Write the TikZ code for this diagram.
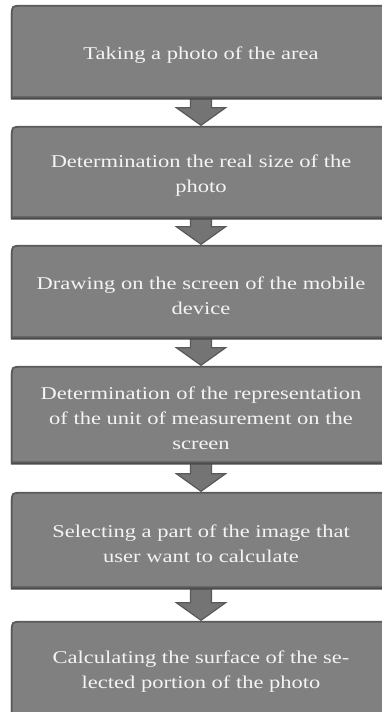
\documentclass[tikz,border=0pt]{standalone}
\usepackage{fontspec}
\setmainfont{Liberation Serif}
\newfontfamily\boxfont[FakeStretch=1.25]{Liberation Serif}
\usetikzlibrary{calc,backgrounds}
\definecolor{boxfill}{HTML}{808080}
\definecolor{boxline}{HTML}{5A5A5A}
\definecolor{shadowcol}{HTML}{4A4A4A}
\definecolor{arrowfill}{HTML}{747474}
\definecolor{textcol}{HTML}{F4F4F4}
\tikzset{
  stepnode/.style={minimum width=378pt, minimum height=#1, inner sep=0pt,
    align=center, text=textcol, font=\boxfont\fontsize{18}{25}\selectfont},
  boxshape/.style={fill=boxfill, draw=boxline, line width=1.8pt},
  shadowshape/.style={fill=shadowcol, draw=shadowcol, line width=1.8pt},
  blockarrow/.style={fill=arrowfill, draw=boxline, line width=1.2pt, line join=miter}
}
% boxes are drawn 4pt above their text node, so that the text sits a little low
\newcommand\boxpath[1]{(#1.south west) -- ([yshift=-10pt]#1.north west)
  .. controls (#1.north west) .. ([xshift=10pt]#1.north west) -- (#1.north east)
  -- ([yshift=10pt]#1.south east) .. controls (#1.south east) .. ([xshift=-10pt]#1.south east) -- cycle}
\newcommand\drawstepbox[1]{%
  \begin{scope}[transform canvas={yshift=2.4pt}]\draw[shadowshape] \boxpath{#1};\end{scope}
  \begin{scope}[transform canvas={yshift=4pt}]\draw[boxshape] \boxpath{#1};\end{scope}}
\newcommand\steparrow[2]{%
  \draw[blockarrow] let \p1=(#1.south), \p2=(#2.north) in
    (\x1-10.5pt,\y1+8pt) -- (\x1-10.5pt,\y2+23pt) -- (\x1-24.5pt,\y2+23pt) -- (\x1,\y2+5.5pt)
    -- (\x1+24.5pt,\y2+23pt) -- (\x1+10.5pt,\y2+23pt) -- (\x1+10.5pt,\y1+8pt);}
\begin{document}
\begin{tikzpicture}[x=1pt,y=-1pt]
\useasboundingbox (0,0) rectangle (382,712);
\node[stepnode=91pt] (b1) at (201,55.5) {Taking a photo of the area};
\node[stepnode=90pt] (b2) at (201,176) {Determination the real size of the\\photo};
\node[stepnode=91pt] (b3) at (201,295.5) {Drawing on the screen of the mobile\\device};
\node[stepnode=95pt] (b4) at (201,418.5) {Determination of the representation\\of the unit of measurement on the\\screen};
\node[stepnode=94pt] (b5) at (201,544) {Selecting a part of the image that\\user want to calculate};
\node[stepnode=92pt] (b6) at (201,672) {Calculating the surface of the se-\\lected portion of the photo};
\begin{pgfonlayer}{background}
\steparrow{b1}{b2}
\steparrow{b2}{b3}
\steparrow{b3}{b4}
\steparrow{b4}{b5}
\steparrow{b5}{b6}
\drawstepbox{b1}
\drawstepbox{b2}
\drawstepbox{b3}
\drawstepbox{b4}
\drawstepbox{b5}
\drawstepbox{b6}
\end{pgfonlayer}
\end{tikzpicture}
\end{document}
